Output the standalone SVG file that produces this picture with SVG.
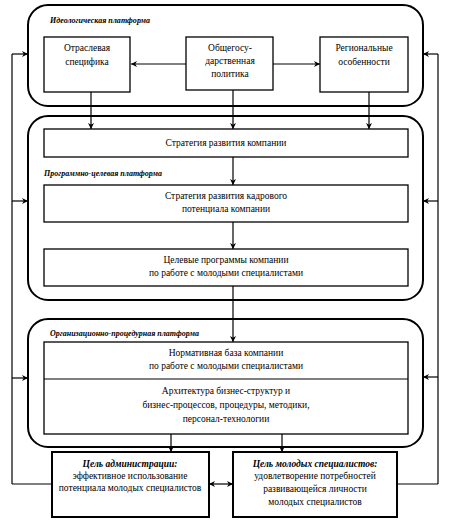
<svg xmlns="http://www.w3.org/2000/svg" width="452" height="522" viewBox="0 0 452 522" font-family="'Liberation Serif', 'DejaVu Serif', serif">
<defs>
<marker id="ah" viewBox="0 0 10 10" refX="10" refY="5" markerWidth="6" markerHeight="6" orient="auto-start-reverse" markerUnits="userSpaceOnUse">
<path d="M0,0 L10,5 L0,10 L3,5 Z" fill="#000"/>
</marker>
<style>
text{font-family:'Liberation Serif','DejaVu Serif',serif;font-size:9.5px;fill:#000;text-anchor:middle}
.lbl{font-weight:bold;font-style:italic;font-size:8px;text-anchor:start}
.gt{font-weight:bold;font-style:italic;font-size:9.5px}
.panel{fill:none;stroke:#000;stroke-width:2}
.box{fill:#fff;stroke:#000;stroke-width:1.3}
.goal{fill:#fff;stroke:#000;stroke-width:2}
.ln{fill:none;stroke:#000;stroke-width:1.2}
.ar{fill:none;stroke:#000;stroke-width:1.2;marker-end:url(#ah)}
</style>
</defs>
<rect width="452" height="522" fill="#fff"/>

<g id="panel-ideology">
<rect class="panel" x="28" y="5" width="395" height="101" rx="20"/>
<text class="lbl" x="50" y="23" textLength="100" lengthAdjust="spacingAndGlyphs">Идеологическая платформа</text>
</g>
<g id="panel-program">
<rect class="panel" x="28" y="116" width="395" height="184" rx="20"/>
<text class="lbl" x="44" y="176">Программно-целевая платформа</text>
</g>
<g id="panel-org">
<rect class="panel" x="28" y="319" width="395" height="128" rx="20"/>
<text class="lbl" x="50" y="336">Организационно-процедурная платформа</text>
</g>

<g id="connectors">
<line class="ar" x1="186" y1="64" x2="131" y2="64"/>
<line class="ar" x1="273" y1="64" x2="320" y2="64"/>
<line class="ar" x1="91" y1="92" x2="91" y2="129"/>
<line class="ar" x1="233" y1="90" x2="233" y2="129"/>
<line class="ar" x1="369" y1="92" x2="369" y2="129"/>
<line class="ar" x1="233" y1="157" x2="233" y2="185"/>
<line class="ar" x1="233" y1="222" x2="233" y2="249"/>
<line class="ar" x1="233" y1="286" x2="233" y2="342"/>
<line class="ar" x1="171" y1="434" x2="171" y2="452"/>
<line class="ar" x1="282" y1="434" x2="282" y2="452"/>
<line class="ln" x1="52" y1="484" x2="12" y2="484"/>
<line class="ln" x1="12" y1="484" x2="12" y2="54"/>
<line class="ar" x1="12" y1="54" x2="28" y2="54"/>
<line class="ar" x1="12" y1="201" x2="28" y2="201"/>
<line class="ar" x1="12" y1="378" x2="28" y2="378"/>
<line class="ln" x1="397" y1="484" x2="438" y2="484"/>
<line class="ln" x1="438" y1="484" x2="438" y2="54"/>
<line class="ar" x1="438" y1="54" x2="423" y2="54"/>
<line class="ar" x1="438" y1="201" x2="423" y2="201"/>
<line class="ar" x1="438" y1="377" x2="423" y2="377"/>
<line class="ar" x1="221" y1="484" x2="209" y2="484"/>
<line class="ar" x1="221" y1="484" x2="233" y2="484"/>
</g>

<g id="node-branch">
<rect class="box" x="44" y="37" width="86" height="55"/>
<text x="87" y="51">Отраслевая</text>
<text x="87" y="65">специфика</text>
</g>
<g id="node-state">
<rect class="box" x="186" y="37" width="87" height="53"/>
<text x="230" y="51">Общегосу-</text>
<text x="230" y="64">дарственная</text>
<text x="230" y="77">политика</text>
</g>
<g id="node-region">
<rect class="box" x="320" y="37" width="88" height="55"/>
<text x="364" y="51">Региональные</text>
<text x="364" y="65">особенности</text>
</g>
<g id="node-strategy">
<rect class="box" x="44" y="129" width="364" height="28"/>
<text x="226" y="146">Стратегия развития компании</text>
</g>
<g id="node-hr-strategy">
<rect class="box" x="44" y="185" width="364" height="37"/>
<text x="226" y="199">Стратегия развития кадрового</text>
<text x="226" y="212">потенциала компании</text>
</g>
<g id="node-programs">
<rect class="box" x="44" y="249" width="364" height="37"/>
<text x="226" y="263">Целевые программы компании</text>
<text x="226" y="276">по работе с молодыми специалистами</text>
</g>
<g id="node-norms">
<rect class="box" x="44" y="342" width="364" height="92"/>
<line class="ln" x1="44" y1="379" x2="408" y2="379"/>
<text x="226" y="356">Нормативная база компании</text>
<text x="226" y="369">по работе с молодыми специалистами</text>
<text x="226" y="394">Архитектура бизнес-структур и</text>
<text x="226" y="408">бизнес-процессов, процедуры, методики,</text>
<text x="226" y="422">персонал-технологии</text>
</g>
<g id="node-goal-admin">
<rect class="goal" x="52" y="452" width="157" height="65"/>
<text class="gt" x="130" y="467">Цель администрации:</text>
<text x="130" y="479">эффективное использование</text>
<text x="130" y="491">потенциала молодых специалистов</text>
</g>
<g id="node-goal-young">
<rect class="goal" x="233" y="452" width="164" height="65"/>
<text class="gt" x="315" y="467">Цель молодых специалистов:</text>
<text x="315" y="479">удовлетворение потребностей</text>
<text x="315" y="492">развивающейся личности</text>
<text x="315" y="505">молодых специалистов</text>
</g>
</svg>
